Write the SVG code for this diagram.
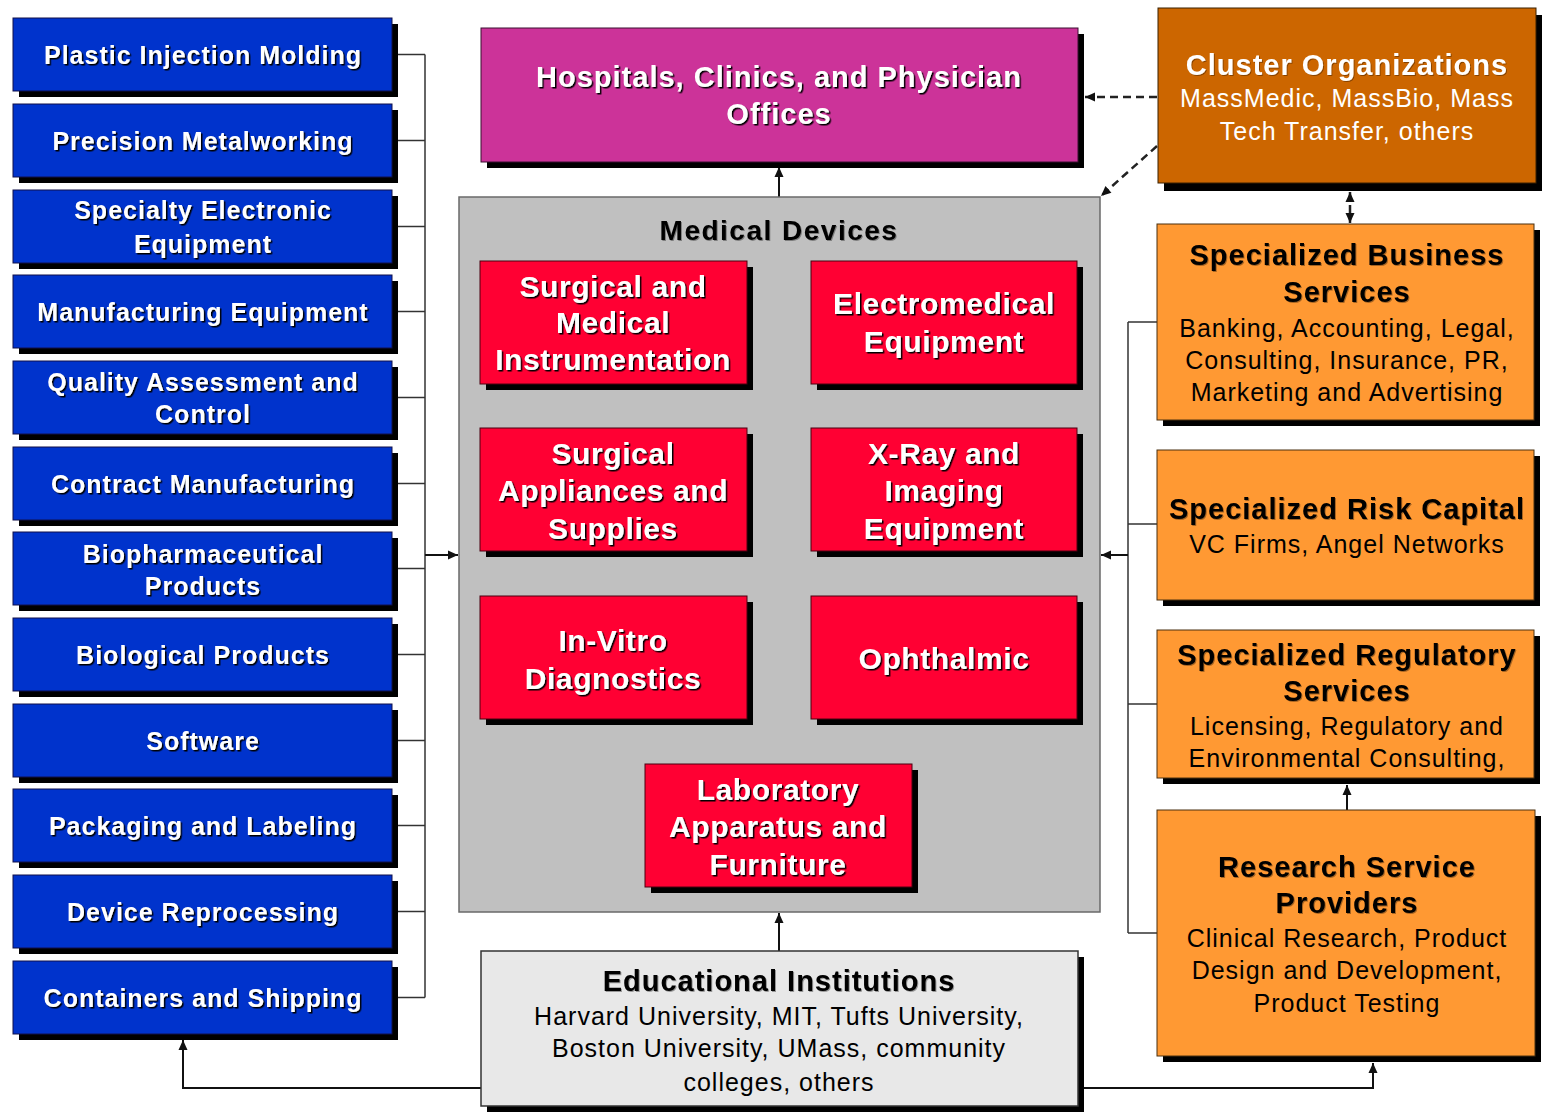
<svg xmlns="http://www.w3.org/2000/svg" width="1545" height="1114" viewBox="0 0 1545 1114">
<defs>
<style>
.sh{fill:#000}
.blue{fill:#0033CC;stroke:#10104a;stroke-width:1}
.red{fill:#FF0033;stroke:#4a0010;stroke-width:1}
.mag{fill:#CC3399;stroke:#3a1030;stroke-width:1}
.dor{fill:#CC6600;stroke:#3a2000;stroke-width:1}
.lor{fill:#FF9933;stroke:#4a3010;stroke-width:1}
.gray{fill:#C0C0C0;stroke:#6a6a6a;stroke-width:1.5}
.lgray{fill:#E8E8E8;stroke:#333;stroke-width:1.5}
text{font-family:"Liberation Sans",Arial,Helvetica,sans-serif;text-anchor:middle}
.bt{font-weight:bold;font-size:25px;fill:#fff;letter-spacing:1px}
.rt{font-weight:bold;font-size:30px;fill:#fff;letter-spacing:0.6px}
.ht{font-weight:bold;font-size:29px;letter-spacing:1px}
.nt{font-size:25px;letter-spacing:1px}
.w{fill:#fff}
.k{fill:#000}
.ln{fill:none;stroke:#333;stroke-width:1.5}
.ar{fill:none;stroke:#111;stroke-width:2}
.ds{fill:none;stroke:#222;stroke-width:2.5;stroke-dasharray:8,5}
</style>
<filter id="ts" x="-5%" y="-30%" width="110%" height="160%">
<feDropShadow dx="1.5" dy="1.5" stdDeviation="0.3" flood-color="#000" flood-opacity="1"/>
</filter>
<filter id="ks" x="-5%" y="-30%" width="110%" height="160%">
<feDropShadow dx="1" dy="1" stdDeviation="0.4" flood-color="#000" flood-opacity="0.35"/>
</filter>
<marker id="ah" viewBox="0 0 10 10" refX="10" refY="5" markerWidth="11" markerHeight="10" markerUnits="userSpaceOnUse" orient="auto-start-reverse">
<path d="M0,0.5 L10,5 L0,9.5 z" fill="#111"/>
</marker>
</defs>

<g id="connectors">
<g class="ln">
<line x1="397" y1="54.5" x2="425" y2="54.5"/>
<line x1="397" y1="140.5" x2="425" y2="140.5"/>
<line x1="397" y1="226.5" x2="425" y2="226.5"/>
<line x1="397" y1="311.5" x2="425" y2="311.5"/>
<line x1="397" y1="397.5" x2="425" y2="397.5"/>
<line x1="397" y1="483.5" x2="425" y2="483.5"/>
<line x1="397" y1="568.5" x2="425" y2="568.5"/>
<line x1="397" y1="654.5" x2="425" y2="654.5"/>
<line x1="397" y1="740.5" x2="425" y2="740.5"/>
<line x1="397" y1="825.5" x2="425" y2="825.5"/>
<line x1="397" y1="911.5" x2="425" y2="911.5"/>
<line x1="397" y1="997.5" x2="425" y2="997.5"/>
<line x1="425" y1="54.5" x2="425" y2="997.5"/>
<line x1="1128" y1="322" x2="1157" y2="322"/>
<line x1="1128" y1="524" x2="1157" y2="524"/>
<line x1="1128" y1="704" x2="1157" y2="704"/>
<line x1="1128" y1="933" x2="1157" y2="933"/>
<line x1="1128" y1="322" x2="1128" y2="933"/>
</g>
<line class="ar" x1="425" y1="555" x2="458" y2="555" marker-end="url(#ah)"/>
<line class="ar" x1="1128" y1="555" x2="1101" y2="555" marker-end="url(#ah)"/>
<line class="ar" x1="779" y1="197" x2="779" y2="167" marker-end="url(#ah)"/>
<line class="ar" x1="779" y1="951" x2="779" y2="913" marker-end="url(#ah)"/>
<line class="ar" x1="1347" y1="810" x2="1347" y2="785" marker-end="url(#ah)"/>
<polyline class="ar" points="1084,1088 1373,1088 1373,1063" marker-end="url(#ah)"/>
<polyline class="ar" points="481,1088 183,1088 183,1040" marker-end="url(#ah)"/>
<line class="ds" x1="1157" y1="97" x2="1085" y2="97" marker-end="url(#ah)"/>
<line class="ds" x1="1157" y1="146" x2="1101" y2="196" marker-end="url(#ah)"/>
<line class="ds" x1="1350" y1="192" x2="1350" y2="223" marker-start="url(#ah)" marker-end="url(#ah)"/>
</g>

<g id="n-plastic"><rect class="sh" x="19" y="24" width="379" height="73"/><rect class="blue" x="13" y="18" width="379" height="73"/><text class="bt" filter="url(#ts)" x="203" y="63.5">Plastic Injection Molding</text></g>
<g id="n-precision"><rect class="sh" x="19" y="110" width="379" height="73"/><rect class="blue" x="13" y="104" width="379" height="73"/><text class="bt" filter="url(#ts)" x="203" y="149.5">Precision Metalworking</text></g>
<g id="n-electronic"><rect class="sh" x="19" y="196" width="379" height="73"/><rect class="blue" x="13" y="190" width="379" height="73"/><text class="bt" filter="url(#ts)" x="203" y="219">Specialty Electronic</text><text class="bt" filter="url(#ts)" x="203" y="253">Equipment</text></g>
<g id="n-mfgequip"><rect class="sh" x="19" y="281" width="379" height="73"/><rect class="blue" x="13" y="275" width="379" height="73"/><text class="bt" filter="url(#ts)" x="203" y="320.5">Manufacturing Equipment</text></g>
<g id="n-quality"><rect class="sh" x="19" y="367" width="379" height="73"/><rect class="blue" x="13" y="361" width="379" height="73"/><text class="bt" filter="url(#ts)" x="203" y="391">Quality Assessment and</text><text class="bt" filter="url(#ts)" x="203" y="423">Control</text></g>
<g id="n-contract"><rect class="sh" x="19" y="453" width="379" height="73"/><rect class="blue" x="13" y="447" width="379" height="73"/><text class="bt" filter="url(#ts)" x="203" y="492.5">Contract Manufacturing</text></g>
<g id="n-biopharma"><rect class="sh" x="19" y="538" width="379" height="73"/><rect class="blue" x="13" y="532" width="379" height="73"/><text class="bt" filter="url(#ts)" x="203" y="563">Biopharmaceutical</text><text class="bt" filter="url(#ts)" x="203" y="595">Products</text></g>
<g id="n-biological"><rect class="sh" x="19" y="624" width="379" height="73"/><rect class="blue" x="13" y="618" width="379" height="73"/><text class="bt" filter="url(#ts)" x="203" y="663.5">Biological Products</text></g>
<g id="n-software"><rect class="sh" x="19" y="710" width="379" height="73"/><rect class="blue" x="13" y="704" width="379" height="73"/><text class="bt" filter="url(#ts)" x="203" y="749.5">Software</text></g>
<g id="n-packaging"><rect class="sh" x="19" y="795" width="379" height="73"/><rect class="blue" x="13" y="789" width="379" height="73"/><text class="bt" filter="url(#ts)" x="203" y="834.5">Packaging and Labeling</text></g>
<g id="n-reprocessing"><rect class="sh" x="19" y="881" width="379" height="73"/><rect class="blue" x="13" y="875" width="379" height="73"/><text class="bt" filter="url(#ts)" x="203" y="920.5">Device Reprocessing</text></g>
<g id="n-containers"><rect class="sh" x="19" y="967" width="379" height="73"/><rect class="blue" x="13" y="961" width="379" height="73"/><text class="bt" filter="url(#ts)" x="203" y="1006.5">Containers and Shipping</text></g>

<g id="n-hospitals"><rect class="sh" x="487" y="34" width="597" height="134"/><rect class="mag" x="481" y="28" width="597" height="134"/><text class="ht w" filter="url(#ts)" x="779" y="86.5">Hospitals, Clinics, and Physician</text><text class="ht w" filter="url(#ts)" x="779" y="123.5">Offices</text></g>

<g id="n-medical-devices"><rect class="gray" x="459" y="197" width="641" height="715"/><text class="k" filter="url(#ks)" x="779" y="240" style="font-weight:bold;font-size:28px;letter-spacing:1.5px">Medical Devices</text></g>

<g id="n-surgical-instr"><rect class="sh" x="486" y="267" width="267" height="123"/><rect class="red" x="480" y="261" width="267" height="123"/><text class="rt" filter="url(#ts)" x="613" y="297">Surgical and</text><text class="rt" filter="url(#ts)" x="613" y="333">Medical</text><text class="rt" filter="url(#ts)" x="613" y="370">Instrumentation</text></g>
<g id="n-electromedical"><rect class="sh" x="817" y="267" width="266" height="123"/><rect class="red" x="811" y="261" width="266" height="123"/><text class="rt" filter="url(#ts)" x="944" y="314">Electromedical</text><text class="rt" filter="url(#ts)" x="944" y="352">Equipment</text></g>
<g id="n-surgical-supplies"><rect class="sh" x="486" y="434" width="267" height="123"/><rect class="red" x="480" y="428" width="267" height="123"/><text class="rt" filter="url(#ts)" x="613" y="464">Surgical</text><text class="rt" filter="url(#ts)" x="613" y="501">Appliances and</text><text class="rt" filter="url(#ts)" x="613" y="539">Supplies</text></g>
<g id="n-xray"><rect class="sh" x="817" y="434" width="266" height="123"/><rect class="red" x="811" y="428" width="266" height="123"/><text class="rt" filter="url(#ts)" x="944" y="464">X-Ray and</text><text class="rt" filter="url(#ts)" x="944" y="501">Imaging</text><text class="rt" filter="url(#ts)" x="944" y="539">Equipment</text></g>
<g id="n-invitro"><rect class="sh" x="486" y="602" width="267" height="123"/><rect class="red" x="480" y="596" width="267" height="123"/><text class="rt" filter="url(#ts)" x="613" y="651">In-Vitro</text><text class="rt" filter="url(#ts)" x="613" y="689">Diagnostics</text></g>
<g id="n-ophthalmic"><rect class="sh" x="817" y="602" width="266" height="123"/><rect class="red" x="811" y="596" width="266" height="123"/><text class="rt" filter="url(#ts)" x="944" y="669">Ophthalmic</text></g>
<g id="n-laboratory"><rect class="sh" x="651" y="770" width="267" height="123"/><rect class="red" x="645" y="764" width="267" height="123"/><text class="rt" filter="url(#ts)" x="778" y="800">Laboratory</text><text class="rt" filter="url(#ts)" x="778" y="837">Apparatus and</text><text class="rt" filter="url(#ts)" x="778" y="875">Furniture</text></g>

<g id="n-educational"><rect class="sh" x="487" y="957" width="597" height="155"/><rect class="lgray" x="481" y="951" width="597" height="155"/><text class="ht k" filter="url(#ks)" x="779" y="990.5">Educational Institutions</text><text class="nt k" x="779" y="1025">Harvard University, MIT, Tufts University,</text><text class="nt k" x="779" y="1057">Boston University, UMass, community</text><text class="nt k" x="779" y="1091">colleges, others</text></g>

<g id="n-cluster"><rect class="sh" x="1164" y="15" width="378" height="176"/><rect class="dor" x="1158" y="8" width="378" height="175"/><text class="ht w" filter="url(#ks)" x="1347" y="74.5">Cluster Organizations</text><text class="nt w" x="1347" y="107">MassMedic, MassBio, Mass</text><text class="nt w" x="1347" y="140">Tech Transfer, others</text></g>

<g id="n-business"><rect class="sh" x="1163" y="230" width="377" height="196"/><rect class="lor" x="1157" y="224" width="377" height="196"/><text class="ht k" filter="url(#ks)" x="1347" y="264.5">Specialized Business</text><text class="ht k" filter="url(#ks)" x="1347" y="301.5">Services</text><text class="nt k" x="1347" y="337">Banking, Accounting, Legal,</text><text class="nt k" x="1347" y="369">Consulting, Insurance, PR,</text><text class="nt k" x="1347" y="401">Marketing and Advertising</text></g>

<g id="n-risk"><rect class="sh" x="1163" y="456" width="377" height="150"/><rect class="lor" x="1157" y="450" width="377" height="150"/><text class="ht k" filter="url(#ks)" x="1347" y="518.5">Specialized Risk Capital</text><text class="nt k" x="1347" y="553">VC Firms, Angel Networks</text></g>

<g id="n-regulatory"><rect class="sh" x="1163" y="636" width="377" height="148"/><rect class="lor" x="1157" y="630" width="377" height="148"/><text class="ht k" filter="url(#ks)" x="1347" y="664.5">Specialized Regulatory</text><text class="ht k" filter="url(#ks)" x="1347" y="700.5">Services</text><text class="nt k" x="1347" y="735">Licensing, Regulatory and</text><text class="nt k" x="1347" y="767">Environmental Consulting,</text></g>

<g id="n-research"><rect class="sh" x="1163" y="816" width="378" height="246"/><rect class="lor" x="1157" y="810" width="378" height="246"/><text class="ht k" filter="url(#ks)" x="1347" y="876.5">Research Service</text><text class="ht k" filter="url(#ks)" x="1347" y="912.5">Providers</text><text class="nt k" x="1347" y="947">Clinical Research, Product</text><text class="nt k" x="1347" y="979">Design and Development,</text><text class="nt k" x="1347" y="1012">Product Testing</text></g>
</svg>
